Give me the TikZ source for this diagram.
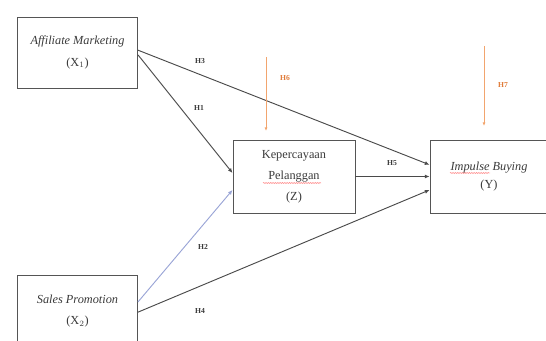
\documentclass[tikz,border=0pt]{standalone}
\usepackage{fontspec}
\setmainfont{Liberation Serif}
\usepackage{tikz}
\usetikzlibrary{arrows.meta,decorations.pathmorphing}

\definecolor{boxgray}{HTML}{555555}
\definecolor{textgray}{HTML}{3A3A3A}
\definecolor{linegray}{HTML}{4A4A4A}
\definecolor{blueline}{HTML}{9AA5D6}
\definecolor{medorange}{HTML}{F2A56E}
\definecolor{medtext}{HTML}{E07B39}

\tikzset{
  varbox/.style={draw=boxgray, line width=0.8pt, minimum width=3.6cm, minimum height=2.13cm,
    inner sep=0pt, align=center, text=textgray, font=\fontsize{10.5}{18}\selectfont},
  link/.style={draw=linegray, line width=0.8pt, -{Latex[length=4pt,width=3.5pt]}},
  medlink/.style={draw=medorange, line width=0.6pt, -{Latex[length=3pt,width=2.5pt]}},
  hyp/.style={font=\fontsize{6.5}{7.5}\selectfont\bfseries, text=textgray, inner sep=1pt},
  medhyp/.style={hyp, text=medtext},
  spell/.style={draw=red!65, line width=0.4pt, decorate,
    decoration={snake, amplitude=0.35pt, segment length=2pt}}
}

\begin{document}
\begin{tikzpicture}[x=0.03cm, y=-0.03cm]
	\useasboundingbox (0,0) rectangle (546,341);

	% variables
	\node[varbox] (am) at (77.5,52.5) {\textit{Affiliate Marketing}\\(X$_1$)};
	\node[varbox] (sp) at (77.5,311) {\textit{Sales Promotion}\\(X$_2$)};
	\node[varbox, minimum width=3.66cm, minimum height=2.19cm] (kp) at (294,176.5) {Kepercayaan\\Pelanggan\\(Z)};
	\node[varbox, minimum width=3.54cm, minimum height=2.19cm, font=\fontsize{10.5}{15}\selectfont] (ib) at (489,176.5) {\textit{Impulse Buying}\\(Y)};

	% spelling marks
	\draw[spell] (263,183) -- (321,183);
	\draw[spell] (450,173) -- (490,173);

	% direct paths
	\draw[link] ([yshift=2pt]am.east) -- ([yshift=10pt]ib.west);
	\draw[link] ([yshift=-2pt]am.east) -- ([yshift=3pt]kp.west);
	\draw[link, draw=blueline] ([yshift=7.7pt]sp.east) -- ([yshift=-11.5pt]kp.west);
	\draw[link] ([yshift=-1pt]sp.east) -- ([yshift=-11.5pt]ib.west);
	\draw[link] (kp.east) -- (ib.west);

	% mediation
	\coordinate (m1s) at (266,57);
	\coordinate (m1e) at (266,131);
	\coordinate (m2s) at (484,46);
	\coordinate (m2e) at (484,126);
	\draw[medlink] (m1s) -- (m1e);
	\draw[medlink] (m2s) -- (m2e);

	% labels
	\node[hyp] (h3) at (200,61) {H3};
	\node[hyp] (h1) at (199,108) {H1};
	\node[hyp] (h2) at (203,247) {H2};
	\node[hyp] (h4) at (200,311) {H4};
	\node[hyp] (h5) at (392,163) {H5};
	\node[medhyp] (h6) at (285,78) {H6};
	\node[medhyp] (h7) at (503,85) {H7};
\end{tikzpicture}
\end{document}
